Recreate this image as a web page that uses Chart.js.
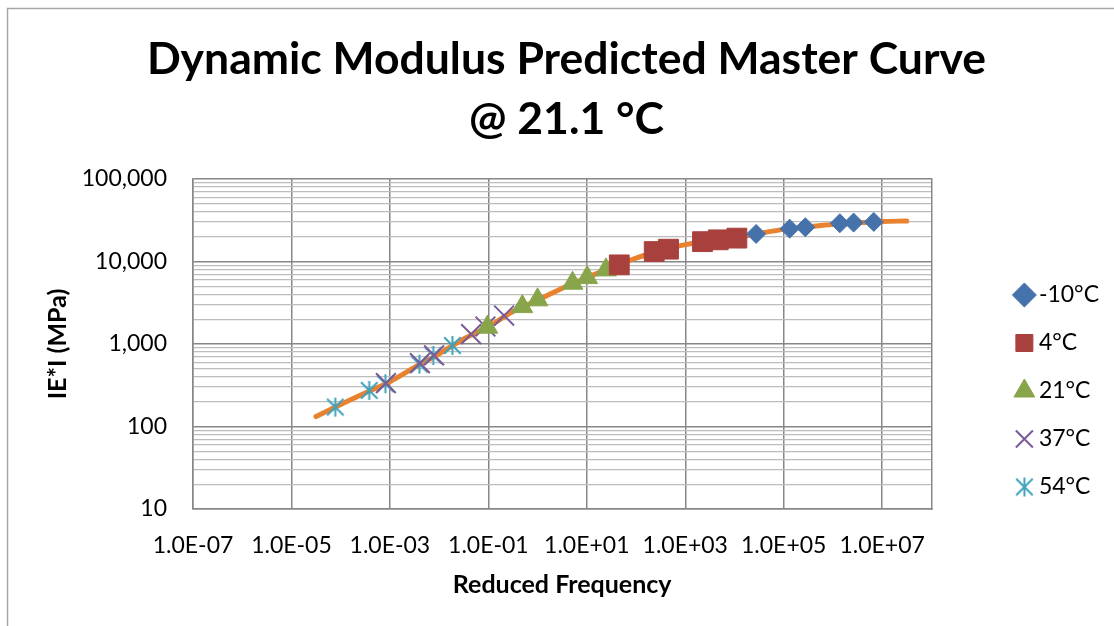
<!DOCTYPE html>
<html>
<head>
<meta charset="utf-8">
<script src="https://cdn.jsdelivr.net/npm/chart.js@4/dist/chart.umd.min.js"></script>
<style>
  html, body { margin: 0; padding: 0; background: #ffffff; }
  #wrap { width: 1114px; height: 626px; }
</style>
</head>
<body>
<div id="wrap"><canvas id="c" width="1114" height="626"></canvas></div>
<script>
// ---- data ----
const seriesNames = ['-10°C', '4°C', '21°C', '37°C', '54°C'];

const freqM10 = [2.75e4, 1.32e5, 2.75e5, 1.38e6, 2.63e6, 6.76e6];
const modM10  = [21600, 25000, 26000, 29100, 29600, 30200];

const freq4 = [45.7, 234, 457, 2240, 4680, 11200];
const mod4  = [9100, 13200, 14100, 17400, 18300, 19200];

const freq21 = [0.0955, 0.49, 1.0, 5.13, 10.2, 24.5];
const mod21  = [1600, 2840, 3430, 5460, 6380, 7910];

const freq37 = [8.3e-4, 4.07e-3, 7.9e-3, 0.0447, 0.0871, 0.209];
const mod37  = [336, 587, 727, 1318, 1629, 2213];

const freq54 = [7.76e-5, 3.8e-4, 8.1e-4, 3.98e-3, 7.59e-3, 0.0186];
const mod54  = [172, 274, 330, 571, 726, 959];

const curveFreq = [3.16e-5, 1e-4, 3.16e-4, 1e-3, 3.16e-3, 1e-2, 3.16e-2, 0.1, 0.316, 1, 3.16, 10, 31.6, 100, 316, 1000, 3162, 1e4, 3.16e4, 1e5, 3.16e5, 1e6, 3.16e6, 1e7, 3.16e7];
const curveMod  = [132, 185, 255, 349, 520, 760, 1150, 1620, 2480, 3400, 4750, 6400, 8400, 11000, 13500, 16000, 17800, 19400, 21900, 24500, 26300, 28000, 29300, 30500, 31000];

const xTickValues = [1e-7, 1e-5, 1e-3, 1e-1, 1e1, 1e3, 1e5, 1e7];
const yDecades = [10, 100, 1000, 10000, 100000];

// ---- helpers ----
const FONT = 'Lato';
function pts(xs, ys) { return xs.map((x, i) => ({ x: x, y: ys[i] })); }
function isPow10(v) { const l = Math.log10(v); return Math.abs(l - Math.round(l)) < 1e-9; }
function sciLabel(v) {
  const e = Math.round(Math.log10(v));
  const m = (v / Math.pow(10, e)).toFixed(1);
  const sign = e < 0 ? '-' : '+';
  const ae = Math.abs(e);
  return m + 'E' + sign + (ae < 10 ? '0' + ae : '' + ae);
}
const yTickValues = [];
yDecades.forEach((d, i) => {
  if (i === yDecades.length - 1) { yTickValues.push(d); return; }
  for (let k = 1; k <= 9; k++) yTickValues.push(d * k);
});

// asterisk marker (vertical line + X), like the spreadsheet's star marker
function makeAsterisk(color, size) {
  const c = document.createElement('canvas');
  c.width = size; c.height = size;
  const g = c.getContext('2d');
  g.strokeStyle = color; g.lineWidth = 2; g.lineCap = 'butt';
  const m = size / 2, r = size / 2 - 1;
  g.beginPath();
  g.moveTo(m, m - r); g.lineTo(m, m + r);
  g.moveTo(m - r * 0.87, m - r * 0.87); g.lineTo(m + r * 0.87, m + r * 0.87);
  g.moveTo(m + r * 0.87, m - r * 0.87); g.lineTo(m - r * 0.87, m + r * 0.87);
  g.stroke();
  return c;
}

const colBlue = '#4672AB', colRed = '#A8403D', colGreen = '#88A54C',
      colPurple = '#7A5A98', colTeal = '#3FA2BC', colOrange = '#E8822F';
const gridMajor = '#878787', gridMinor = '#bdbdbd';

const outerBorder = {
  id: 'outerBorder',
  beforeDraw(chart) {
    const ctx = chart.ctx;
    ctx.save();
    ctx.strokeStyle = '#a6a6a6';
    ctx.lineWidth = 1.5;
    ctx.strokeRect(7.5, 8.5, 1200, 700);
    ctx.restore();
  }
};

new Chart(document.getElementById('c'), {
  type: 'scatter',
  data: {
    datasets: [
      { label: seriesNames[0], data: pts(freqM10, modM10), pointStyle: 'rectRot', pointRadius: 9.5,
        backgroundColor: colBlue, borderColor: colBlue, borderWidth: 1, order: 1 },
      { label: seriesNames[1], data: pts(freq4, mod4), pointStyle: 'rect', pointRadius: 14,
        backgroundColor: colRed, borderColor: colRed, borderWidth: 1, order: 1 },
      { label: seriesNames[2], data: pts(freq21, mod21), pointStyle: 'triangle', pointRadius: 12,
        backgroundColor: colGreen, borderColor: colGreen, borderWidth: 1, order: 1 },
      { label: seriesNames[3], data: pts(freq37, mod37), pointStyle: 'crossRot', pointRadius: 14,
        backgroundColor: colPurple, borderColor: colPurple, borderWidth: 2, order: 1 },
      { label: seriesNames[4], data: pts(freq54, mod54), pointStyle: makeAsterisk(colTeal, 21), pointRadius: 10,
        backgroundColor: colTeal, borderColor: colTeal, borderWidth: 2, order: 1 },
      { label: '', data: pts(curveFreq, curveMod), showLine: true, pointRadius: 0,
        borderColor: colOrange, borderWidth: 5, cubicInterpolationMode: 'monotone',
        borderCapStyle: 'round', order: 10 }
    ]
  },
  options: {
    responsive: false,
    animation: false,
    events: [],
    layout: { padding: { left: 24, right: 5, top: 0, bottom: 24 } },
    plugins: {
      tooltip: { enabled: false },
      title: {
        display: true,
        text: ['Dynamic Modulus Predicted Master Curve', '@ 21.1 °C'],
        color: '#000000',
        font: { family: FONT, size: 44.5, weight: 'bold', lineHeight: 60 / 44.5 },
        padding: { top: 30, bottom: 29 }
      },
      legend: {
        position: 'right',
        align: 'start',
        title: {
          display: true, text: ' ',
          font: { family: FONT, size: 10, lineHeight: 1.2 },
          padding: { top: 0, bottom: 246.5 }
        },
        labels: {
          usePointStyle: true,
          boxWidth: 6,
          boxHeight: 17,
          padding: 25,
          color: '#000000',
          font: { family: FONT, size: 23 },
          filter: (item) => item.text !== ''
        }
      }
    },
    scales: {
      x: {
        type: 'logarithmic',
        position: 'bottom',
        min: 1e-7,
        max: 1e8,
        afterBuildTicks: (axis) => { axis.ticks = xTickValues.map(v => ({ value: v })); },
        afterFit: (axis) => { axis.height = 93; },
        ticks: {
          autoSkip: false, maxRotation: 0, padding: 23, color: '#000000',
          font: { family: FONT, size: 23 },
          callback: (v) => sciLabel(v)
        },
        grid: { color: gridMajor, lineWidth: 1.5, drawTicks: false },
        border: { display: true, color: gridMajor, width: 1.5 },
        title: {
          display: true, text: 'Reduced Frequency', color: '#000000',
          font: { family: FONT, size: 25, weight: 'bold' },
          padding: { top: 0, bottom: 2 }
        }
      },
      y: {
        type: 'logarithmic',
        position: 'left',
        min: 10,
        max: 100000,
        afterBuildTicks: (axis) => { axis.ticks = yTickValues.map(v => ({ value: v })); },
        afterFit: (axis) => { axis.width = 169; },
        ticks: {
          autoSkip: false, padding: 26, color: '#000000',
          font: { family: FONT, size: 23 },
          callback: (v) => isPow10(v) ? Number(v).toLocaleString('en-US') : ''
        },
        grid: {
          drawTicks: false,
          color: (ctx) => (ctx.tick && isPow10(ctx.tick.value)) ? gridMajor : gridMinor,
          lineWidth: (ctx) => (ctx.tick && isPow10(ctx.tick.value)) ? 1.6 : 1.3
        },
        border: { display: true, color: gridMajor, width: 1.5 },
        title: {
          display: true, text: 'IE*I (MPa)', color: '#000000',
          font: { family: FONT, size: 25, weight: 'bold' },
          padding: { top: 19, bottom: 0 }
        }
      },
      y2: {
        type: 'linear',
        position: 'right',
        display: true,
        afterFit: (axis) => { axis.width = 65; },
        ticks: { display: false },
        grid: { display: false, drawTicks: false },
        border: { display: true, color: gridMajor, width: 1.5 }
      }
    }
  },
  plugins: [outerBorder]
});
</script>
</body>
</html>
